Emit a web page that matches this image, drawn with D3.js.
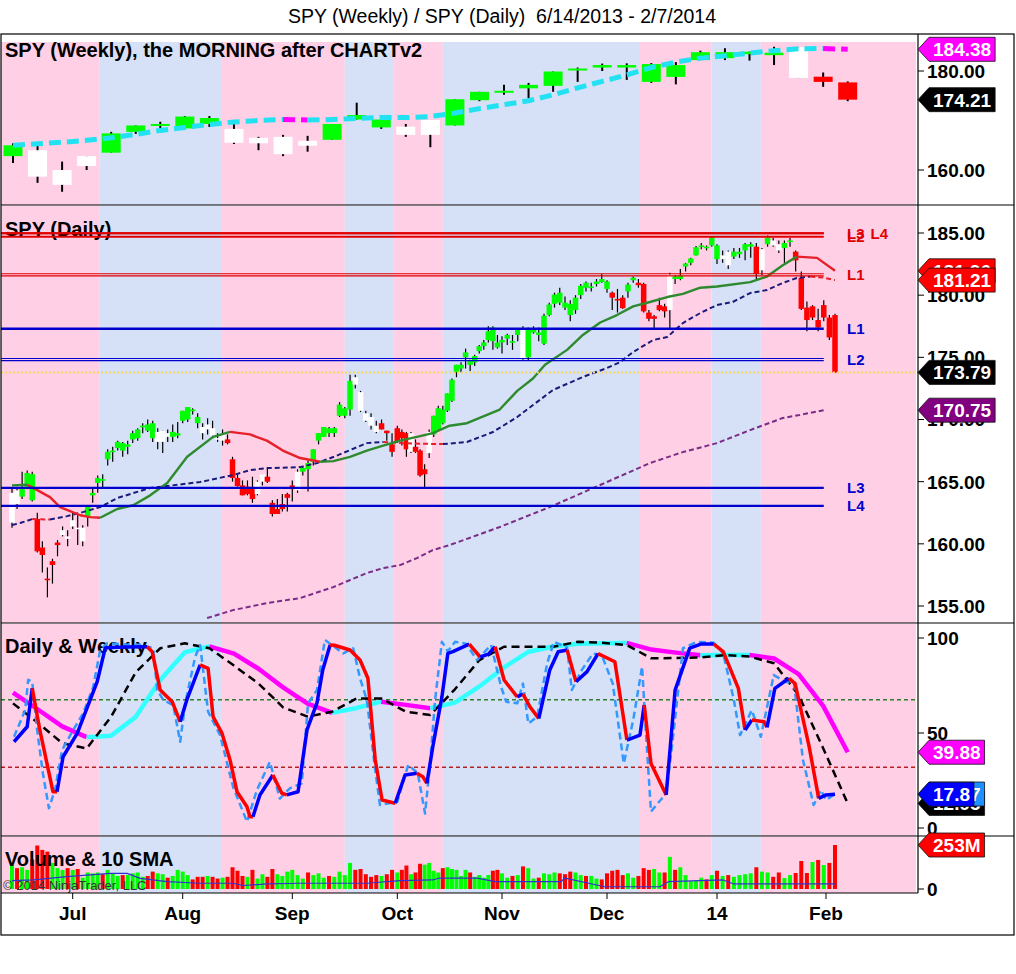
<!DOCTYPE html>
<html>
<head>
<meta charset="utf-8">
<title>SPY (Weekly) / SPY (Daily)</title>
<script src="https://cdn.jsdelivr.net/npm/d3@7/dist/d3.min.js"></script>
<style>
  body { margin: 0; background: #fff; }
  text { font-family: 'Liberation Sans', Arial, sans-serif; }
</style>
</head>
<body>
<div id="chart"></div>
<script>
/* jshint browser: true */
/* global d3 */

// daily bars 6/13/2013 .. 2/3/2014
var dayOpen = [161.7,164.3,163.8,164.5,165.6,162.0,159.7,157.2,158.3,159.9,
  160.7,160.6,161.4,161.3,160.2,162.2,163.9,164.9,165.1,166.8,
  167.4,167.7,168.1,167.8,168.4,168.5,169.4,169.6,169.7,168.2,
  168.2,168.9,169.0,168.9,169.9,170.0,170.8,170.2,169.4,169.2,
  169.3,168.4,168.3,168.4,166.8,165.3,164.7,164.0,164.4,164.0,
  165.0,165.4,163.3,162.4,162.8,164.0,164.7,164.3,165.8,166.5,
  166.6,168.3,168.6,169.3,168.9,171.2,170.3,170.8,173.4,172.2,
  170.5,170.2,169.5,169.2,169.1,167.4,168.2,168.5,168.9,167.4,
  167.8,167.5,166.0,167.3,168.8,169.2,170.8,170.7,171.5,173.8,
  174.1,175.0,174.7,174.6,175.5,175.9,176.4,177.4,176.2,176.4,
  176.5,176.2,176.8,177.3,175.0,177.0,176.8,176.1,178.4,179.3,
  180.2,179.4,179.3,178.8,180.0,181.0,180.6,180.9,181.3,181.1,
  180.2,179.6,179.8,180.3,181.2,181.0,180.9,178.6,178.3,178.8,
  179.1,178.8,181.3,181.3,182.3,182.6,183.2,184.0,183.9,184.0,
  184.0,183.2,183.5,183.1,183.3,184.1,183.9,183.9,182.0,184.1,
  184.0,184.1,183.8,184.4,183.5,181.4,179.0,178.2,178.0,178.2,
  176.6,178.4];
var dayHigh = [164.5,164.6,165.8,165.9,165.8,162.5,160.2,158.1,158.8,160.3,
  161.4,161.1,162.5,162.4,161.5,163.0,164.5,165.5,165.6,167.6,
  167.8,168.3,168.2,168.3,169.1,169.3,169.7,170.0,169.9,169.3,
  169.1,169.2,169.6,169.8,170.7,171.0,170.9,170.5,169.7,170.1,
  169.9,168.9,169.2,168.8,167.0,165.6,165.1,165.1,165.4,165.1,
  165.6,166.1,163.5,163.6,164.0,164.1,165.1,166.0,166.2,166.7,
  167.6,168.9,169.4,169.4,169.4,171.4,171.0,173.6,173.6,172.3,
  170.7,170.5,169.9,170.0,169.1,168.9,169.5,169.2,169.0,169.0,
  168.4,167.6,166.4,169.2,170.3,171.1,171.1,172.1,173.3,174.4,
  174.6,175.7,174.8,175.2,176.0,176.4,177.5,177.5,176.8,176.7,
  176.9,176.8,177.3,177.5,177.4,177.5,177.4,178.5,179.4,180.2,
  180.6,179.9,179.6,180.0,180.9,181.1,181.0,181.3,181.7,181.2,
  180.3,180.5,180.0,181.0,181.5,181.3,181.0,178.8,178.4,179.8,
  179.3,181.8,181.6,182.1,182.6,183.0,183.95,184.2,184.0,184.7,
  184.1,183.6,183.6,183.8,183.8,184.2,184.25,184.2,183.8,184.8,
  184.6,184.4,184.4,184.6,183.6,181.9,179.5,179.2,178.9,179.6,
  178.4,178.5];
var dayLow = [161.3,162.8,163.6,164.4,163.4,159.3,157.7,155.7,156.8,159.0,
  160.6,159.8,161.2,159.9,159.8,161.4,163.3,164.1,164.5,166.3,
  166.6,167.5,167.0,167.2,168.1,168.3,168.9,169.0,168.2,167.6,
  167.3,168.2,168.2,168.5,169.7,169.8,170.4,169.3,168.4,168.8,
  168.5,168.2,167.9,168.0,165.0,164.6,163.9,163.9,163.3,163.9,
  164.7,164.9,162.2,162.4,162.6,162.6,163.4,164.1,165.5,164.2,
  166.3,168.0,168.6,168.6,168.6,170.2,170.1,170.3,172.5,170.6,
  169.8,169.2,168.9,169.2,168.3,167.0,168.1,167.9,167.0,167.3,
  167.3,165.4,164.5,166.9,168.6,169.1,169.6,170.6,171.4,173.4,
  173.8,174.1,173.9,174.3,175.3,175.6,176.2,175.6,175.7,175.3,
  176.0,175.6,176.3,174.8,174.7,176.9,176.3,176.0,178.3,179.0,
  179.2,178.8,177.9,178.5,179.7,180.3,180.3,180.7,181.0,180.2,
  178.8,178.6,178.9,179.8,181.0,180.6,178.6,177.9,177.3,178.7,
  178.2,177.3,180.9,181.2,181.9,182.4,183.2,183.7,183.6,183.9,
  182.5,182.6,182.1,182.9,183.0,182.8,183.0,181.3,181.6,183.9,
  183.9,183.4,182.6,183.9,181.9,178.8,177.1,178.0,177.1,177.9,
  176.4,173.75];
var dayClose = [164.1,163.2,164.4,165.7,163.5,159.4,159.1,157.1,158.6,160.1,
  161.1,160.4,161.9,161.2,161.3,163.0,164.1,165.3,165.2,167.4,
  167.5,168.2,167.5,168.0,168.9,169.2,169.5,169.1,168.5,169.0,
  169.1,168.6,168.6,168.7,170.7,171.0,170.7,169.7,168.9,169.6,
  168.7,168.5,168.9,168.1,165.3,164.65,163.9,164.6,163.6,165.0,
  165.6,165.0,162.4,162.8,163.2,163.7,164.4,165.8,166.1,166.0,
  167.6,168.9,169.4,168.9,169.3,170.3,170.9,173.1,172.8,170.7,
  169.9,169.5,169.0,169.7,168.9,168.0,169.3,169.0,167.6,168.9,
  167.4,165.5,165.6,169.0,170.3,170.9,169.7,172.1,173.2,174.4,
  174.4,175.4,174.4,175.1,175.9,176.2,177.1,176.3,175.8,176.2,
  176.8,176.3,177.2,174.95,177.25,177.3,177.0,178.35,179.25,180.05,
  179.4,179.0,178.4,179.8,180.75,180.6,180.7,181.1,181.05,180.5,
  179.8,179.7,178.95,180.85,181.4,180.8,178.7,178.1,178.1,179.2,
  178.7,181.65,181.5,181.6,182.55,182.95,183.85,183.9,183.8,184.65,
  182.9,182.9,182.4,183.5,183.5,183.6,184.1,181.7,183.7,184.65,
  184.4,183.6,184.2,184.3,182.8,178.9,178.0,179.1,177.4,179.2,
  178.2,173.79];
// candle paint: g green, r red, w white
var dayPaint = 'wwgggrrrrrwwwww' + 'gggggggggggggg' + 'www' + 'gggggg' + 'wwwww' +
  'rrrrrr' + 'ww' + 'rrrrrr' + 'w' + 'gggggggggg' + 'wwwww' + 'rrrrrr' + 'w' + 'rrr' + 'w' +
  'ggggggggggggggggggg' + 'w' + 'gggggggggggggggg' + 'rrr' + 'gg' + 'rrrrrr' + 'w' +
  'ggggggggg' + 'ww' + 'gggg' + 'r' + 'w' + 'g' + 'ww' + 'gg' + 'rrrrrrrr';
// volume, millions
var dayVolume = [140,120,125,110,170,250,225,215,150,120,
  110,120,110,115,65,95,90,95,85,110,
  90,75,80,80,90,95,70,75,100,90,
  85,65,75,110,100,80,55,70,70,75,
  70,60,65,70,125,105,75,70,110,60,
  85,70,115,85,75,100,110,80,60,95,
  80,90,65,75,70,100,80,150,110,115,
  85,70,80,75,85,110,95,110,135,85,
  95,145,140,150,105,95,120,125,115,110,
  75,110,95,70,80,65,80,105,110,90,
  65,75,80,130,120,60,65,90,85,95,
  90,85,100,95,80,75,75,60,55,90,
  105,110,80,90,65,75,120,110,115,95,
  95,185,110,125,80,45,50,65,55,80,
  105,75,80,70,80,85,90,125,100,95,
  70,95,63,80,92,161,92,155,167,138,
  150,253];
var volSma = [[0,48],[4.2,52],[10.9,71],[19.5,90],[22.9,90],[25.5,61],[30.9,42],
  [37.5,33],[44.1,33],[46.1,20],[50.9,29],[57.5,33],[63.8,33],[70.2,33],[76.6,48],
  [83.8,52],[85.3,63],[93.5,63],[97.5,42],[110.2,42],[111,63],[118.6,13],[129.1,13],
  [130.7,42],[141.1,52],[143,29],[159.4,29],[161,30]];

// daily moving averages, [bar, price]
var ma20 = [[0,164.7],[3,164.75],[4.2,164.5],[7.5,163.76],[9.5,162.96],[13.5,162.3],
  [15.5,162.15],[17.5,162.1],[20.9,162.8],[24.1,163.1],[27.5,163.9],[30.9,164.9],
  [34.9,167.0],[40.1,168.6],[43.5,169.0],[47.5,168.8],[50.9,168.3],[54.1,167.5],
  [57.5,166.9],[61.3,166.6],[63.8,166.65],[67,167.0],[70.2,167.5],[73.3,167.9],
  [76.6,168.3],[80.3,168.6],[83.8,168.9],[87.5,169.5],[91.3,169.7],[98.5,170.8],
  [101.9,172.3],[104.9,173.3],[107.2,174.4],[111.4,175.6],[114.4,176.8],[117.7,177.8],
  [120.9,178.4],[124,179.1],[127.2,179.45],[130.5,179.85],[133.5,180.1],[136.8,180.6],
  [140,180.7],[145.9,181.05],[148.9,181.5],[151.7,182.4],[154.2,183.1],[157.8,183.0],
  [161,181.96]];
var ma50 = [[0,161.51],[1.6,161.67],[4,161.99],[7.5,161.95],[10.9,162.23],[14,162.55],
  [17.5,162.96],[20.9,163.68],[24.1,164.08],[27.5,164.49],[30.9,164.65],[37.5,164.97],
  [44.1,165.53],[47.5,165.93],[50.9,166.09],[57.5,166.17],[60.7,166.5],[63.8,166.98],
  [67,167.54],[70.2,168.1],[73.3,168.19],[76.6,168.1],[83.8,168.03],[86,168.02],
  [91.3,168.19],[97,168.99],[101.9,170.2],[104.9,171.16],[108.7,172.37],[114.4,173.42],
  [119,174.14],[121.5,174.62],[124,175.43],[127.8,176.39],[130.5,176.63],[133.5,177.76],
  [136.8,178.56],[140,179.21],[142.8,179.45],[145.9,180.17],[148.9,180.41],[151.7,180.98],
  [154.2,181.38],[156.6,181.5],[158.8,181.42],[161,181.21]];
var ma200 = [[38.9,154.03],[44.1,154.67],[50.9,155.23],[57.5,155.64],[63.8,156.52],
  [67,157.09],[70.2,157.65],[73.3,158.05],[76.6,158.29],[80.3,158.85],[83.8,159.5],
  [87.5,159.9],[98.5,161.35],[108.1,162.96],[117.7,164.73],[127.2,166.5],[133.5,167.38],
  [140,168.1],[145.9,169.15],[151.7,170.12],[154.7,170.36],[159,170.75]];

// support / resistance levels
var redLevels = [{name: 'L3', price: 184.98}, {name: 'L2', price: 184.7},
  {name: 'L4', price: 184.98}, {name: 'L1', price: 181.64}];
var blueLevels = [{name: 'L1', price: 177.3}, {name: 'L2', price: 174.82},
  {name: 'L3', price: 164.5}, {name: 'L4', price: 163.05}];

// weekly bars 6/14/2013 .. 2/7/2014
var weekOpen = [162.8,164.0,157.0,160.8,163.5,167.7,168.9,168.4,169.3,165.5,165.4,163.2,
  164.9,166.1,170.2,168.6,167.1,167.1,169.0,174.1,175.6,176.5,177.0,180.1,180.7,180.7,
  177.8,178.8,182.2,182.6,183.4,183.2,178.6,178.85,177.7];
var weekHigh = [165.4,165.05,161.7,162.8,167.7,169.0,169.75,170.9,170.9,169.3,166.7,167.1,
  166.9,169.3,173.6,170.2,169.3,170.1,174.3,175.8,177.2,177.6,179.9,180.7,181.5,181.55,
  181.6,181.8,184.1,184.6,183.9,184.9,184.8,179.7,177.9];
var weekLow = [161.4,157.4,155.6,160.0,163.5,167.3,168.1,168.4,168.7,165.25,164.0,162.8,
  163.7,166.1,170.2,168.3,166.7,164.6,169.0,173.9,175.2,174.5,175.8,177.8,180.0,178.2,
  177.6,177.3,182.2,182.2,182.1,181.2,178.6,176.8,173.9];
var weekClose = [165.0,158.65,160.0,162.8,167.4,169.0,169.3,170.8,170.5,168.3,166.5,166.7,
  165.9,169.3,171.1,170.2,168.75,170.1,174.3,175.8,176.0,177.2,179.9,180.5,181.2,181.2,
  181.4,181.2,183.8,183.8,183.9,183.7,184.8,177.8,174.21];
var weekPaint = 'g' + 'www' + 'ggggg' + 'wwww' + 'ggg' + 'ww' + 'gggggggggggggg' + 'w' + 'rr';
var weekMa = [165.0,165.3,165.6,166.0,166.5,167.2,168.0,168.6,169.2,169.7,170.0,170.2,
  170.1,170.2,170.4,170.6,170.6,170.8,171.5,172.4,173.2,174.0,175.2,176.6,177.9,179.2,
  180.7,181.8,182.6,183.1,183.6,184.1,184.5,184.55,184.38];

// stochastics
var dailyD = [[0.4,45.4],[3,53.3],[4,73.5],[5.5,51.6],[8.1,19.1],[8.9,19.1],[10.1,37.5],
  [12.9,49.8],[16.9,77],[18.5,94.7],[19.5,95.0],[22.9,95.2],[26.9,95.4],[27.9,92.8],
  [29.5,72.6],[31.9,66.5],[33.5,55.9],[34.9,68],[37.5,85.8],[39.1,84],[40.1,58.6],
  [41.9,49.8],[43.5,35.8],[44.9,19.1],[46.9,11.2],[47.5,5.9],[48.1,5.9],[49.5,17.4],
  [52.1,27.9],[53.9,18.3],[54.9,17.4],[57.1,19.1],[58.8,51.6],[60.7,65.8],[61.8,83.2],
  [63.2,96.3],[64,96.2],[67,93.7],[68.9,88.4],[70.4,78.8],[71.8,35.8],[73.1,14.7],
  [75.6,13],[77.7,27.9],[80.3,28.8],[81.6,27],[82.5,23.5],[83.8,42.8],[85.8,69],
  [87.1,91.9],[88.2,92.8],[91.8,96.8],[94.2,90],[96,91.5],[97.5,95.4],[99.4,77.9],
  [101.9,69],[103,70.5],[104.3,63.9],[106,57.6],[108.1,83.2],[109.7,92.8],[111.4,93.7],
  [113.1,77],[115.2,82.3],[117.3,91.8],[120.5,87.5],[122.8,46.3],[125.3,48.9],[126.1,64.7],
  [127.4,34],[130.3,17.4],[132,72.6],[134.8,94.7],[136.9,96.8],[139.4,96.8],[141.1,92.8],
  [143.8,73.5],[145,51.6],[146.2,56.8],[148.4,55.9],[148.9,53],[150.3,73.5],[152.8,78.8],
  [153.9,76],[156.4,42.8],[158.1,15.6],[159.4,17.4],[161,17.8]];
var dailyK = [[0.4,48],[2.6,62],[3.2,78],[4,77],[4.9,53],[6.1,28.8],[7.3,10.4],[8.5,20],
  [9.9,41],[11.9,50.7],[14.1,60.4],[16.1,74.3],[17.5,93.7],[18.9,97.2],[22.9,96.5],
  [25.5,96.5],[28.1,94.6],[28.9,72.6],[30.1,67.4],[32.1,64.7],[33.5,45.4],[34.5,65.6],
  [36.5,90],[37.5,96.3],[38.5,74.3],[39.1,61.2],[41.5,48.9],[44.1,21.7],[46.9,3.3],
  [48.9,20],[51.5,34.8],[53.5,15.5],[55.5,20.9],[57.8,23.5],[59,65.6],[60.7,72.6],
  [62.2,99],[65.7,91.9],[67.6,94.6],[68.9,78.8],[70.2,67.4],[71.8,30.5],[72.7,12.1],
  [76,13.8],[78.4,33.2],[80.5,28.8],[82.1,7.6],[83.2,34],[84.3,67.4],[85.8,98],[87.1,93],
  [88.7,98],[91.1,97],[93.5,88.4],[96.6,96.3],[98.8,74.3],[99.8,66.5],[101.9,65.6],
  [103,76],[104,55],[105.7,58.6],[107.6,86.7],[108.9,98],[111.4,95],[112.3,72.6],
  [114.2,83.2],[116.3,91.8],[118,91],[120.1,76],[122.2,34],[124,56.8],[125.7,84.9],
  [126.4,51.6],[127.4,8.6],[130.3,18.3],[131.4,42.8],[133.5,94.6],[136.2,98],[139.4,97.5],
  [141.1,91.9],[143,67.4],[144.1,48.9],[146.2,62],[147.8,48],[150.1,80.5],[152.1,77],
  [153.7,76],[155.3,35.8],[157.2,12.1],[158.5,20],[159.4,14.7],[161,17.87]];
var weeklyD = [71.2,62.5,53.5,47.8,48.6,58.5,77.9,92.5,95.6,91.8,83.8,74,65.5,60.6,63.2,
  66.5,64.8,63,66,74.5,84.5,92.8,95.5,97,97.3,97.4,93.9,92.3,90.9,91.0,91.1,89.2,81,64.3,39.88];
var weeklyK = [65.6,55.5,44.7,41.8,58.6,82,94.6,97.2,94.6,85.5,76,63.5,58.6,61.2,68.2,68.2,
  61.2,59.5,73,88.4,95.4,95.4,95.4,98,97.5,96.3,89.3,89.5,89.8,91,90.2,86.7,70,42,12.95];
var oscLevels = [67.5, 32];

// shading bands (bar index where the colour flips) and month ticks
var bandEdges = [17.3, 41.7, 66, 75.2, 86, 125.1, 139, 147.8];
var monthTicks = [['Jul', 12], ['Aug', 34], ['Sep', 56], ['Oct', 76], ['Nov', 99],
  ['Dec', 119], ['14', 140], ['Feb', 159.4]];
var xAnchorBar = [0, 12, 34, 56, 76, 99, 119, 140, 161];

var PINK = '#FFCFE6', BLUE = '#D6E0F6';
var GREEN = '#00FF00', RED = '#FF0000';
var plotL = 1, plotR = 918, frameR = 1014;
var pWeek = {top: 35, bottom: 205, shade: 42};
var pDay = {top: 205, bottom: 623, shade: 206};
var pOsc = {top: 623, bottom: 836, shade: 624};
var pVol = {top: 836, bottom: 893, shade: 837};

var svg = d3.select('#chart').append('svg')
  .attr('width', 1016).attr('height', 974)
  .style('display', 'block');
var defs = svg.append('defs');

var xDay = d3.scaleLinear().domain(xAnchorBar)
  .range([12, 72.7, 182.7, 292.3, 397.3, 502, 607, 717, 835]);
var xWeek = d3.scaleLinear().domain([0, weekClose.length - 1]).range([13, 847.7]);
var yWeek = d3.scaleLinear().domain([160, 180]).range([170, 71]);
var yDay = d3.scaleLinear().domain([155, 185]).range([606, 233]);
var yOsc = d3.scaleLinear().domain([0, 100]).range([828, 638]);
var yVol = d3.scaleLinear().domain([0, d3.max(dayVolume)]).range([889, 845]);

function clip(id, p) {
  defs.append('clipPath').attr('id', id).append('rect')
    .attr('x', plotL).attr('y', p.top).attr('width', plotR - plotL).attr('height', p.bottom - p.top);
  return svg.append('g').attr('clip-path', 'url(#' + id + ')');
}

function bands(g, p) {
  var edges = [plotL].concat(bandEdges.map(function(b) { return xDay(b); }), [plotR - 2]);
  for (var i = 0; i < edges.length - 1; i++) {
    g.append('rect').attr('x', edges[i]).attr('y', p.shade)
      .attr('width', edges[i + 1] - edges[i]).attr('height', p.bottom - p.shade)
      .attr('fill', i % 2 === 0 ? PINK : BLUE);
  }
}

function colorRuns(pts, up, down) {
  var runs = [];
  var cur = null;
  var last = up;
  for (var i = 1; i < pts.length; i++) {
    var dv = pts[i][1] - pts[i - 1][1];
    var c = dv > 0 ? up : (dv < 0 ? down : last);
    last = c;
    if (!cur || cur.color !== c) {
      cur = {color: c, pts: [pts[i - 1]]};
      runs.push(cur);
    }
    cur.pts.push(pts[i]);
  }
  return runs;
}

function drawLine(g, pts, x, y, color, width, dash) {
  var line = d3.line()
    .x(function(d) { return x(d[0]); })
    .y(function(d) { return y(d[1]); });
  g.append('path').datum(pts).attr('d', line)
    .attr('fill', 'none').attr('stroke', color).attr('stroke-width', width)
    .attr('stroke-dasharray', dash || null)
    .attr('stroke-linejoin', 'round');
}

function drawRuns(g, pts, x, y, up, down, width, dash) {
  colorRuns(pts, up, down).forEach(function(r) {
    drawLine(g, r.pts, x, y, r.color, width, dash);
  });
}

function paint(c) {
  return c === 'g' ? GREEN : (c === 'r' ? RED : '#FFFFFF');
}

function candles(g, x, y, o, h, l, c, colors, bodyW, wickW) {
  var idx = d3.range(c.length);
  g.selectAll(null).data(idx).enter().append('line')
    .attr('x1', function(i) { return x(i); }).attr('x2', function(i) { return x(i); })
    .attr('y1', function(i) { return y(h[i]); }).attr('y2', function(i) { return y(l[i]); })
    .attr('stroke', '#000').attr('stroke-width', wickW);
  g.selectAll(null).data(idx).enter().append('rect')
    .attr('x', function(i) { return x(i) - bodyW / 2; })
    .attr('y', function(i) { return y(Math.max(o[i], c[i])); })
    .attr('width', bodyW)
    .attr('height', function(i) { return Math.max(1.6, Math.abs(y(o[i]) - y(c[i]))); })
    .attr('fill', function(i) { return paint(colors[i]); });
}

function title(g, text, yPos) {
  g.append('text').attr('x', 5).attr('y', yPos).attr('font-size', 20)
    .attr('font-weight', 'bold').attr('fill', '#000').text(text);
}

function tag(yPos, label, fill) {
  var g = svg.append('g');
  var p = g.append('path').attr('fill', fill).attr('stroke', '#111').attr('stroke-width', 0.8);
  var t = g.append('text').attr('x', 933).attr('y', yPos).attr('dy', '0.36em')
    .attr('font-size', 19).attr('font-weight', 'bold').attr('fill', '#fff').text(label);
  var w = t.node().getComputedTextLength();
  var x2 = 933 + w + 4;
  p.attr('d', 'M918,' + yPos + 'L929,' + (yPos - 12) + 'H' + x2 + 'V' + (yPos + 12) +
    'H929Z');
}

function axisLabels(values, y, fmt) {
  values.forEach(function(v) {
    svg.append('line').attr('x1', plotR).attr('x2', plotR + 6)
      .attr('y1', y(v)).attr('y2', y(v)).attr('stroke', '#000');
    svg.append('text').attr('x', 927).attr('y', y(v)).attr('dy', '0.36em')
      .attr('font-size', 19).attr('font-weight', 'bold').attr('fill', '#000').text(fmt(v));
  });
}

function hline(g, price, color, width, offsets) {
  offsets.forEach(function(o) {
    g.append('line').attr('x1', plotL).attr('x2', xDay(159))
      .attr('y1', yDay(price) + o).attr('y2', yDay(price) + o)
      .attr('stroke', color).attr('stroke-width', width);
  });
}

var f2 = d3.format('.2f');

/* Weekly panel */
var gW = clip('clip-week', pWeek);
bands(gW, pWeek);
title(gW, 'SPY (Weekly), the MORNING after CHARTv2', 57);
candles(gW, xWeek, yWeek, weekOpen, weekHigh, weekLow, weekClose, weekPaint, 19, 2);
drawRuns(gW, weekMa.map(function(v, k) { return [k, v]; }), xWeek, yWeek,
  '#22E2F2', '#FF00FF', 5, '12,6');

/* Daily panel */
var gD = clip('clip-day', pDay);
bands(gD, pDay);
title(gD, 'SPY (Daily)', 236);
candles(gD, xDay, yDay, dayOpen, dayHigh, dayLow, dayClose, dayPaint, 5.5, 1.2);
drawLine(gD, ma200, xDay, yDay, '#7A2C86', 2, '5,3');
drawRuns(gD, ma50, xDay, yDay, '#1A1A7A', '#E8202A', 2, '5,3');
drawRuns(gD, ma20, xDay, yDay, '#2E8A2E', '#E8202A', 2.4);

// L1 resistance and L2 support are drawn as thin double rules, the rest single
redLevels.forEach(function(lv) {
  if (lv.name === 'L1') { hline(gD, lv.price, '#E00000', 1.1, [-1.1, 1.1]); }
  else { hline(gD, lv.price, '#E00000', 2, [0]); }
});
blueLevels.forEach(function(lv) {
  if (lv.name === 'L2') { hline(gD, lv.price, '#0000CD', 1.1, [-1.1, 1.1]); }
  else { hline(gD, lv.price, '#0000CD', 2.4, [0]); }
});
var lastClose = dayClose[dayClose.length - 1];
gD.append('line').attr('x1', plotL).attr('x2', plotR)
  .attr('y1', yDay(lastClose)).attr('y2', yDay(lastClose))
  .attr('stroke', '#F6D860').attr('stroke-width', 2).attr('stroke-dasharray', '2,2');

function levelLabels(list, color) {
  var used = {};
  list.forEach(function(lv) {
    var key = Math.round(lv.price * 10);
    var dx = used[key] || 0;
    var t = svg.append('text').attr('x', 847 + dx).attr('y', yDay(lv.price)).attr('dy', '0.36em')
      .attr('font-size', 15).attr('font-weight', 'bold').attr('fill', color).text(lv.name);
    used[key] = dx + t.node().getComputedTextLength() + 6;
  });
}
levelLabels(redLevels, '#E00000');
levelLabels(blueLevels, '#0000CD');

/* Stochastics panel */
var gO = clip('clip-osc', pOsc);
bands(gO, pOsc);
title(gO, 'Daily & Weekly', 653);
gO.append('line').attr('x1', plotL).attr('x2', plotR)
  .attr('y1', yOsc(oscLevels[0])).attr('y2', yOsc(oscLevels[0]))
  .attr('stroke', '#2E7D2E').attr('stroke-width', 1.5).attr('stroke-dasharray', '4,3');
gO.append('line').attr('x1', plotL).attr('x2', plotR)
  .attr('y1', yOsc(oscLevels[1])).attr('y2', yOsc(oscLevels[1]))
  .attr('stroke', '#B22222').attr('stroke-width', 1.5).attr('stroke-dasharray', '4,3');
drawRuns(gO, weeklyD.map(function(v, k) { return [k, v]; }), xWeek, yOsc,
  '#33FFFF', '#FF00FF', 4.5);
drawLine(gO, weeklyK.map(function(v, k) { return [k, v]; }), xWeek, yOsc, '#000', 2.5, '8,5');
drawLine(gO, dailyK, xDay, yOsc, '#3399FF', 2.5, '7,4');
drawRuns(gO, dailyD, xDay, yOsc, '#0000FF', '#FF0000', 3.5);

/* Volume panel */
var gV = clip('clip-vol', pVol);
bands(gV, pVol);
gV.selectAll(null).data(d3.range(dayVolume.length)).enter().append('rect')
  .attr('x', function(i) { return xDay(i) - 2; })
  .attr('y', function(i) { return yVol(dayVolume[i]); })
  .attr('width', 4)
  .attr('height', function(i) { return yVol(0) - yVol(dayVolume[i]); })
  .attr('fill', function(i) {
    var prev = i > 0 ? dayClose[i - 1] : dayOpen[i];
    return dayClose[i] >= prev ? GREEN : RED;
  });
drawLine(gV, volSma, xDay, yVol, '#3030D0', 1.2);
title(gV, 'Volume & 10 SMA', 866);
gV.append('text').attr('x', 3).attr('y', 890).attr('font-size', 13)
  .attr('fill', '#333').text('\u00a9 2014 NinjaTrader, LLC');

/* frame, separators, axes */
svg.append('text').attr('x', 502).attr('y', 23).attr('text-anchor', 'middle')
  .attr('font-size', 19.5).attr('fill', '#000').style('white-space', 'pre')
  .attr('xml:space', 'preserve')
  .text('SPY (Weekly) / SPY (Daily)  6/14/2013 - 2/7/2014');
svg.append('rect').attr('x', plotL).attr('y', 34).attr('width', frameR - plotL).attr('height', 901)
  .attr('fill', 'none').attr('stroke', '#000').attr('stroke-width', 1.2);
[pWeek.bottom, pDay.bottom, pOsc.bottom].forEach(function(yy) {
  svg.append('line').attr('x1', plotL).attr('x2', frameR).attr('y1', yy).attr('y2', yy)
    .attr('stroke', '#000').attr('stroke-width', 1.2);
});
svg.append('line').attr('x1', plotL).attr('x2', plotR).attr('y1', pVol.bottom).attr('y2', pVol.bottom)
  .attr('stroke', '#000').attr('stroke-width', 1.2);
svg.append('line').attr('x1', plotR).attr('x2', plotR).attr('y1', 34).attr('y2', pVol.bottom)
  .attr('stroke', '#000').attr('stroke-width', 1.2);

monthTicks.forEach(function(m) {
  var xx = xDay(m[1]);
  svg.append('line').attr('x1', xx).attr('x2', xx).attr('y1', pVol.bottom).attr('y2', pVol.bottom + 6)
    .attr('stroke', '#000');
  svg.append('text').attr('x', xx).attr('y', 913).attr('dy', '0.36em').attr('text-anchor', 'middle')
    .attr('font-size', 19).attr('font-weight', 'bold').attr('fill', '#000').text(m[0]);
});

axisLabels([160, 180], yWeek, f2);
axisLabels([155, 160, 165, 170, 175, 180, 185], yDay, f2);
axisLabels([0, 50, 100], yOsc, String);
axisLabels([0], yVol, String);

/* value tags */
tag(yWeek(weekMa[weekMa.length - 1]), f2(weekMa[weekMa.length - 1]), '#FF00FF');
tag(yWeek(weekClose[weekClose.length - 1]), f2(weekClose[weekClose.length - 1]), '#000');
tag(yDay(ma20[ma20.length - 1][1]), f2(ma20[ma20.length - 1][1]), '#FF0000');
tag(yDay(ma50[ma50.length - 1][1]), f2(ma50[ma50.length - 1][1]), '#FF0000');
tag(yDay(lastClose), f2(lastClose), '#000');
tag(yDay(ma200[ma200.length - 1][1]), f2(ma200[ma200.length - 1][1]), '#800080');
tag(yOsc(weeklyD[weeklyD.length - 1]), String(weeklyD[weeklyD.length - 1]), '#FF00FF');
tag(yOsc(weeklyK[weeklyK.length - 1]), String(weeklyK[weeklyK.length - 1]), '#000');
tag(yOsc(dailyK[dailyK.length - 1][1]), String(dailyK[dailyK.length - 1][1]), '#1E90FF');
tag(yOsc(dailyD[dailyD.length - 1][1]), String(dailyD[dailyD.length - 1][1]), '#0000FF');
tag(yVol(dayVolume[dayVolume.length - 1]), dayVolume[dayVolume.length - 1] + 'M', '#FF0000');
</script>
</body>
</html>
